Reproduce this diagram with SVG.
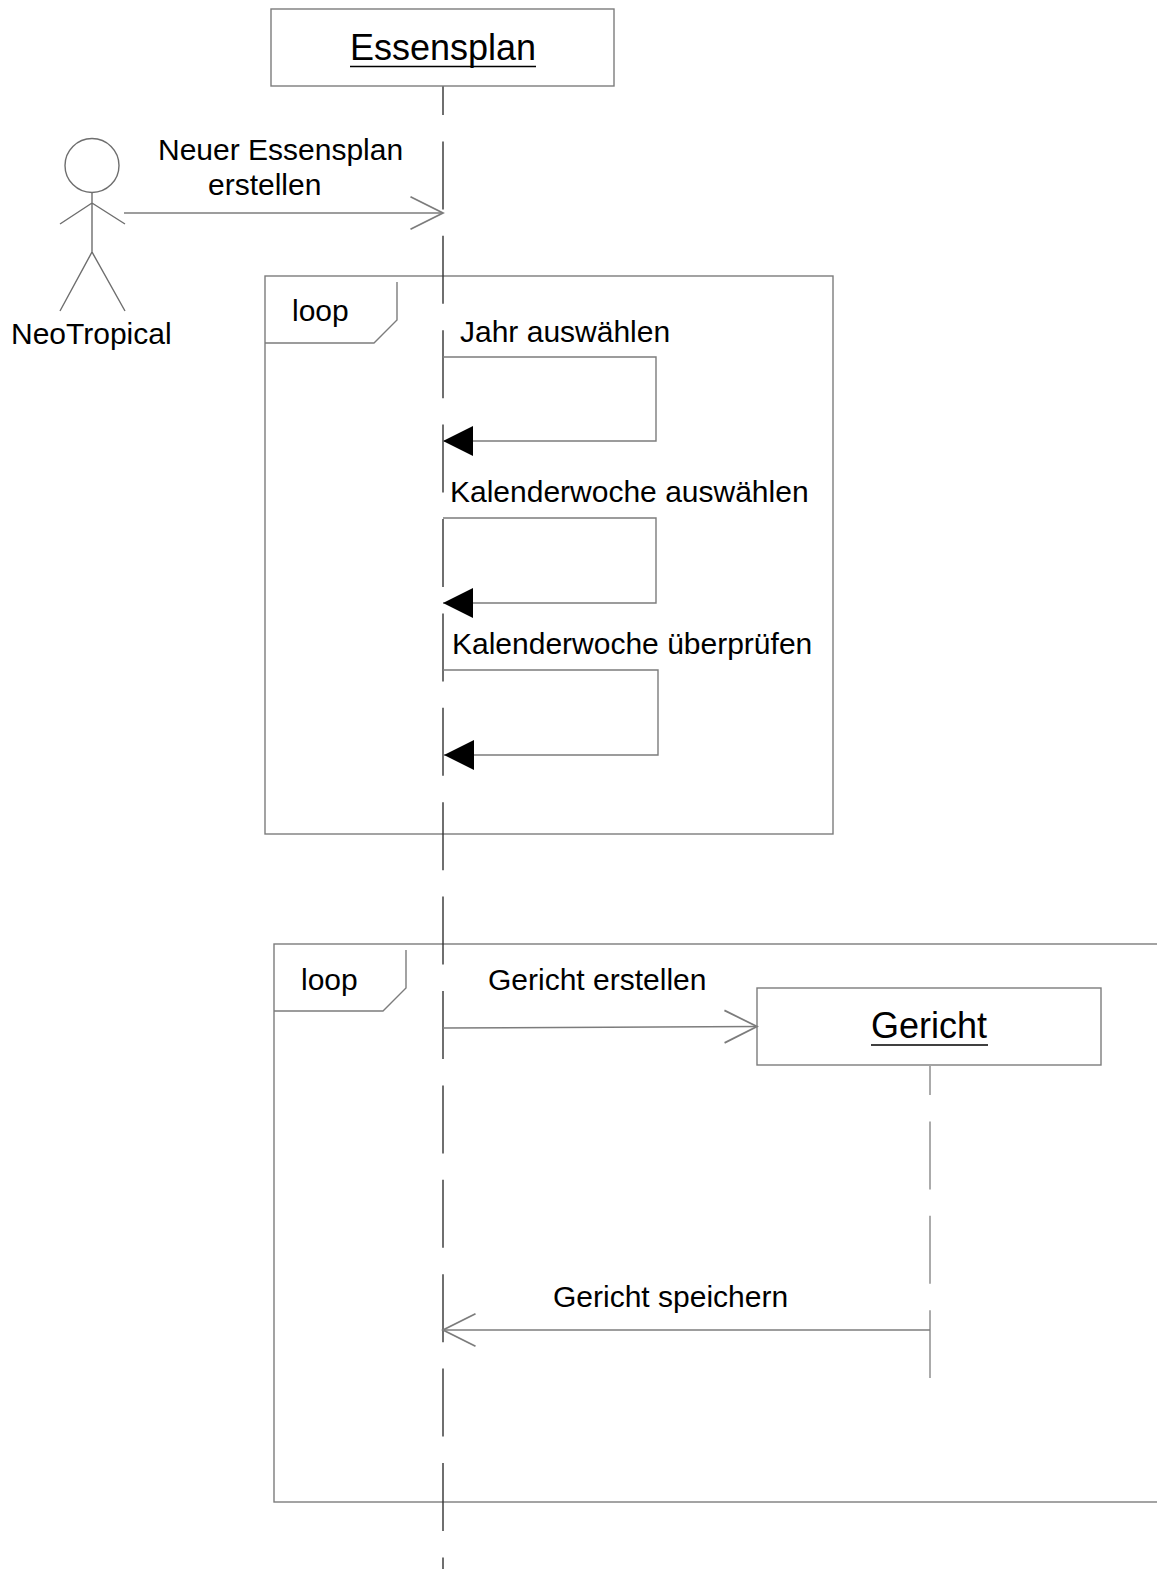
<svg xmlns="http://www.w3.org/2000/svg" width="1157" height="1569" viewBox="0 0 1157 1569">
<defs>
<style>
text{font-family:"Liberation Sans",Arial,Helvetica,sans-serif;fill:#000}
.lbl{font-size:30px}
.ttl{font-size:36px}
.frame{fill:none;stroke:#7c7c7c;stroke-width:1.4}
.box{fill:#fff;stroke:#7c7c7c;stroke-width:1.4}
.msg{fill:none;stroke:#7c7c7c;stroke-width:1.4}
.life{fill:none;stroke-width:1.4;stroke-dasharray:68 26.4;stroke-dashoffset:39}
.actor{fill:none;stroke:#6e6e6e;stroke-width:1.4}
.ul{stroke:#000;stroke-width:1.6}
</style>
<marker id="open" markerUnits="userSpaceOnUse" markerWidth="40" markerHeight="40" viewBox="-30 -16 32 32" refX="0" refY="0" orient="auto">
<path d="M-26,-13 L0,0 L-26,13" fill="none" stroke="#7c7c7c" stroke-width="1.4"/>
</marker>
<marker id="filled" markerUnits="userSpaceOnUse" markerWidth="40" markerHeight="40" viewBox="-30 -16 32 32" refX="0" refY="0" orient="auto">
<path d="M0,0 L-24,-12 L-24,12 Z" fill="#000"/>
</marker>
</defs>
<rect width="1157" height="1569" fill="#fff"/>

<g id="frame-loop1">
<rect class="frame" x="265" y="276" width="568" height="558"/>
<path class="frame" d="M265,343 H374 L397,320 V282"/>
<text class="lbl" x="292" y="321">loop</text>
</g>

<g id="frame-loop2">
<rect class="frame" x="274" y="944" width="1000" height="558"/>
<path class="frame" d="M274,1011 H383 L406,988 V950"/>
<text class="lbl" x="301" y="990">loop</text>
</g>

<g id="lifelines">
<path class="life" stroke="#333" d="M443,86 V1569"/>
<path class="life" stroke="#888" d="M930,1066 V1378"/>
</g>

<g id="actor-neotropical">
<circle class="actor" cx="92" cy="165.5" r="27"/>
<path class="actor" d="M92,193 V252 M60,224 L92,203 L125,224 M60,311 L92,252 L125,311"/>
<text class="lbl" x="11" y="344">NeoTropical</text>
</g>

<g id="node-essensplan">
<rect class="box" x="271" y="9" width="343" height="77"/>
<text class="ttl" x="350" y="60">Essensplan</text>
<line class="ul" x1="350" y1="66.5" x2="536" y2="66.5"/>
</g>

<g id="node-gericht">
<rect class="box" x="757" y="988" width="344" height="77"/>
<text class="ttl" x="871" y="1038">Gericht</text>
<line class="ul" x1="871" y1="1045" x2="988" y2="1045"/>
</g>

<g id="connectors">
<path class="msg" d="M124,213 H443" marker-end="url(#open)"/>
<text class="lbl" x="158" y="160">Neuer Essensplan</text>
<text class="lbl" x="208" y="195">erstellen</text>

<path class="msg" d="M443,357 H656 V441 H443" marker-end="url(#filled)"/>
<text class="lbl" x="460" y="342">Jahr auswählen</text>

<path class="msg" d="M443,518 H656 V603 H443" marker-end="url(#filled)"/>
<text class="lbl" x="450" y="502">Kalenderwoche auswählen</text>

<path class="msg" d="M443,670 H658 V755 H444" marker-end="url(#filled)"/>
<text class="lbl" x="452" y="654">Kalenderwoche überprüfen</text>

<path class="msg" d="M443,1028 L757,1026.5" marker-end="url(#open)"/>
<text class="lbl" x="488" y="990">Gericht erstellen</text>

<path class="msg" d="M930,1330 H443" marker-end="url(#open)"/>
<text class="lbl" x="553" y="1307">Gericht speichern</text>
</g>
</svg>
